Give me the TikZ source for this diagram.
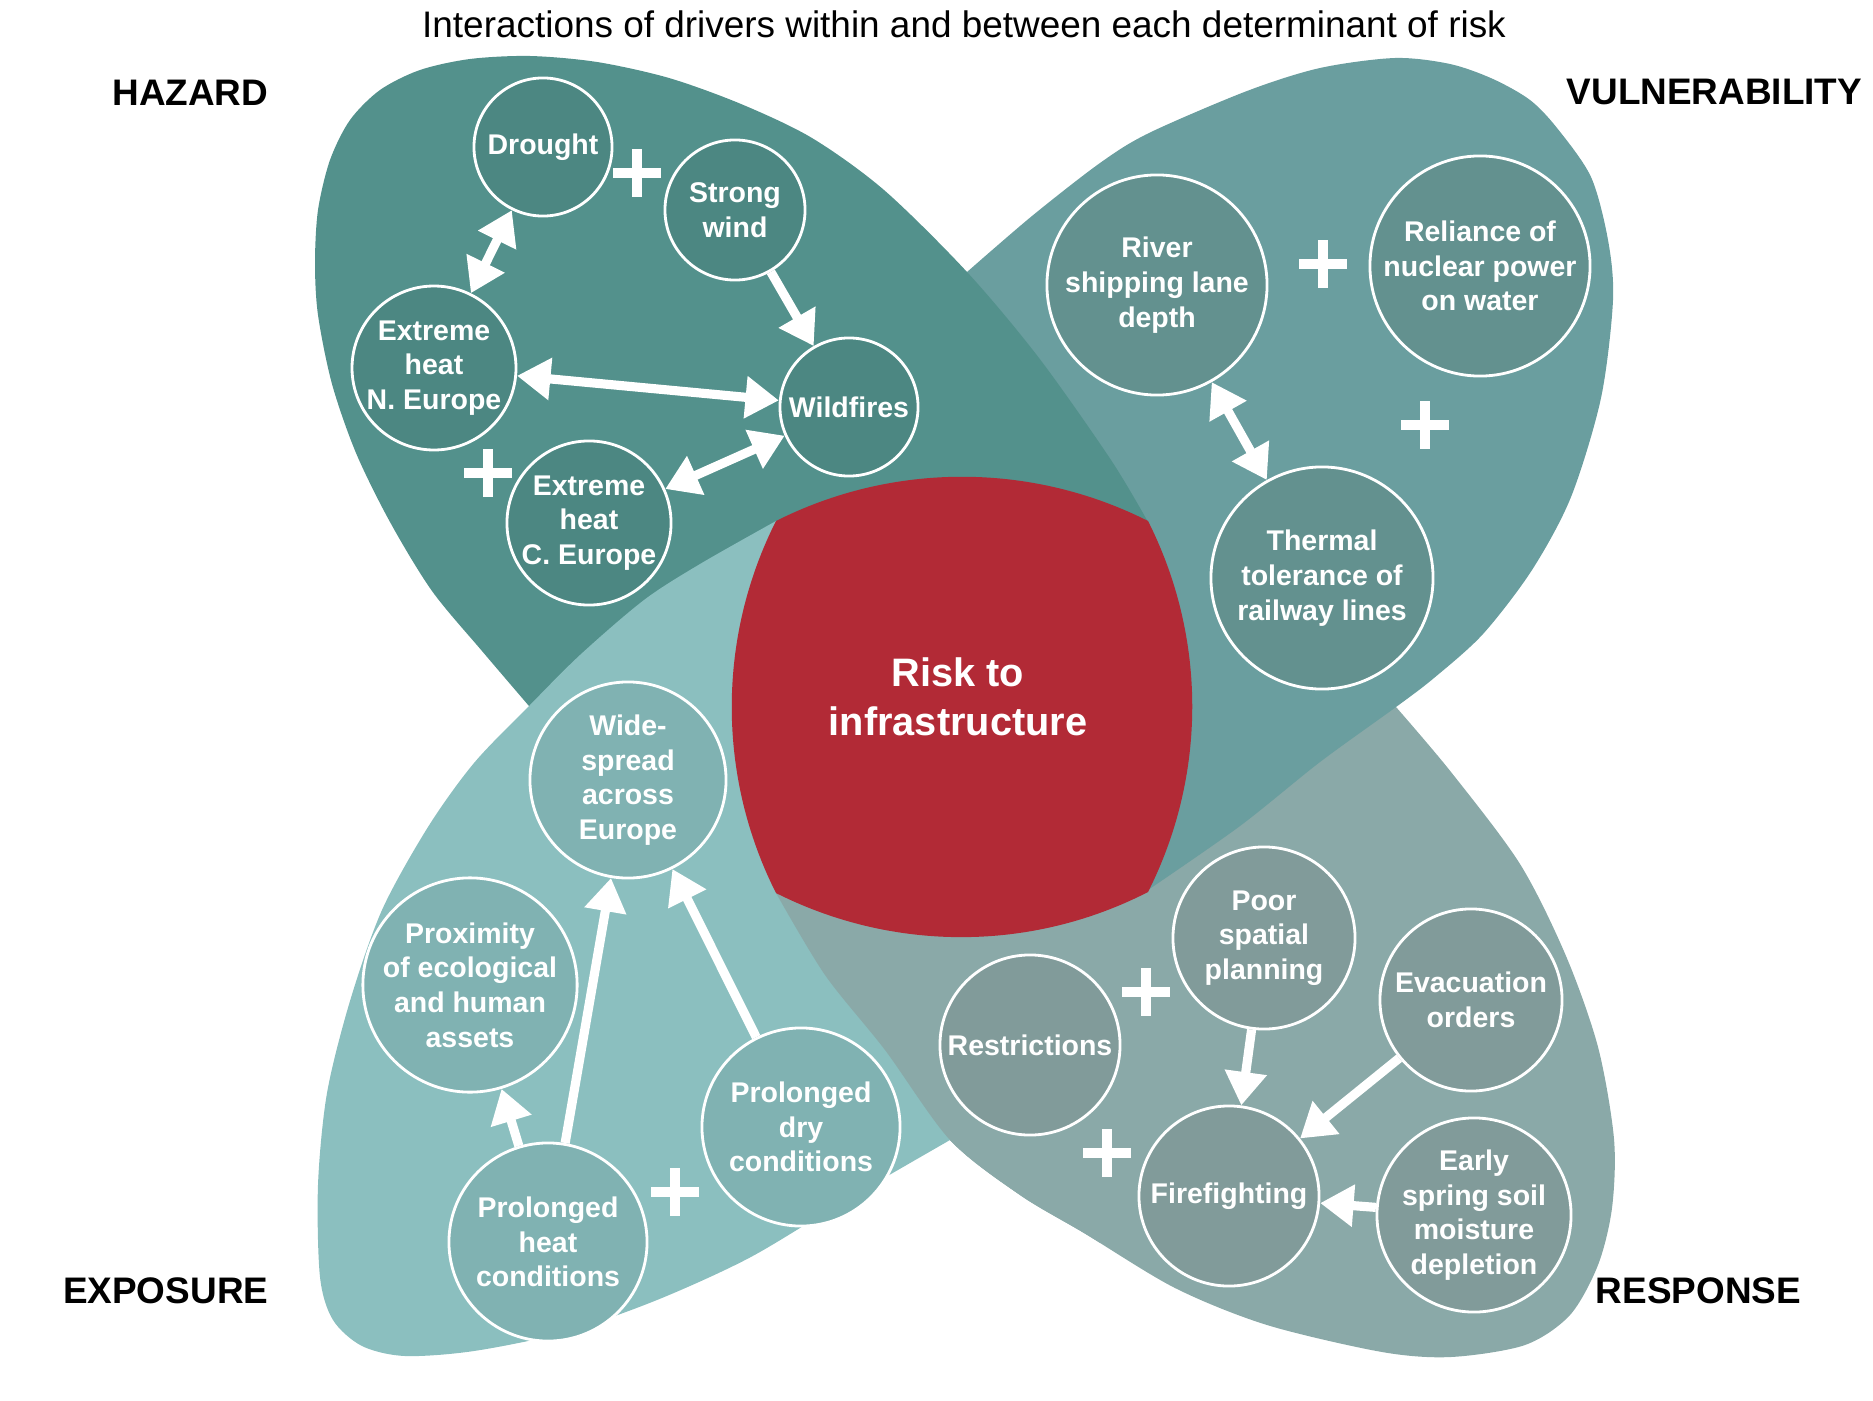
\documentclass[tikz,border=0pt]{standalone}
\usepackage{fontspec}
\setmainfont{Liberation Sans}
\usetikzlibrary{arrows.meta}
\definecolor{hzdleaf}{HTML}{53918C}
\definecolor{hzddot}{HTML}{4C8782}
\definecolor{vulleaf}{HTML}{6A9E9F}
\definecolor{vuldot}{HTML}{63918F}
\definecolor{expleaf}{HTML}{8BBFBF}
\definecolor{expdot}{HTML}{80B2B2}
\definecolor{rspleaf}{HTML}{8AA9A8}
\definecolor{rspdot}{HTML}{819B9A}
\definecolor{riskred}{HTML}{B22A36}
\newcommand\rsppath{plot[smooth] coordinates {(1396,707) (1451,772) (1520,864) (1566,956) (1598,1047) (1614,1139) (1612,1208) (1598,1265) (1570,1315) (1525,1345) (1451,1357) (1382,1352) (1267,1325) (1175,1288) (1084,1233) (1020,1195) (950,1140) (885,1050) (825,975) (776,893)} -- (950,780) -- (1150,690) -- (1300,650) -- cycle}
\begin{document}
\begin{tikzpicture}[x=0.01cm, y=-0.01cm,
    driver/.style={circle, draw=white, line width=0.8pt, text=white, align=center, inner sep=0pt,
        font=\bfseries\fontsize{8.1}{9.85}\selectfont},
    hzd/.style={driver, fill=hzddot, minimum size=#1},
    vul/.style={driver, fill=vuldot, minimum size=#1},
    expo/.style={driver, fill=expdot, minimum size=#1},
    rsp/.style={driver, fill=rspdot, minimum size=#1},
    corner/.style={inner sep=0pt, font=\bfseries\fontsize{10.5}{12}\selectfont},
    relarrow/.style={white, line width=2.6pt},
    plusmark/.style={white, line width=3pt},
    >={Triangle[width=11.5pt,length=9.5pt]}]
\useasboundingbox (0,0) rectangle (1873,1400);

\fill[rspleaf] \rsppath;
\fill[vulleaf] plot[smooth] coordinates {(967,272) (1032,216) (1100,163) (1149,133) (1247,91) (1320,68) (1395,58) (1450,64) (1493,79) (1530,100) (1557,128) (1591,177) (1608,240) (1613,300) (1601,398) (1571,497) (1532,570) (1483,634) (1434,678) (1396,707) (1320,762) (1240,826) (1148,890)} -- (1000,760) -- (850,600) -- (880,380) -- cycle;
\fill[hzdleaf] plot[smooth] coordinates {(1148,522) (1111,460) (1039,358) (967,272) (884,190) (812,138) (741,104) (669,78) (597,62) (530,56) (470,59) (420,70) (380,90) (350,120) (330,160) (318,210) (315,263) (318,315) (332,384) (356,453) (390,522) (432,591) (482,651) (529,706)} -- (600,770) -- (800,720) -- (1000,620) -- cycle;
\fill[expleaf] plot[smooth] coordinates {(776,521) (700,564) (644,600) (580,655) (529,706) (474,763) (428,827) (382,910) (350,1001) (327,1093) (318,1185) (320,1277) (333,1320) (362,1346) (405,1356) (474,1351) (566,1332) (657,1300) (749,1258) (841,1203) (950,1140)} -- (1050,1060) -- (950,800) -- cycle;
\begin{scope}
\clip (700,893) rectangle (1100,1300);
\fill[rspleaf] \rsppath;
\end{scope}
\fill[riskred] (776,521) .. controls (893,462) and (1031,462) .. (1148,521)
    .. controls (1207,638) and (1207,775) .. (1148,892)
    .. controls (1031,952) and (893,952) .. (776,893)
    .. controls (717,776) and (717,638) .. cycle;

\node[text=white, align=center, font=\bfseries\fontsize{11.3}{13.9}\selectfont] (risk) at (958,697) {Risk to\\infrastructure};
\node[font=\fontsize{10.5}{12}\selectfont] (title) at (964,24) {Interactions of drivers within and between each determinant of risk};
\node[corner, anchor=east] (hazard) at (269,93) {HAZARD};
\node[corner, anchor=west] (vulner) at (1566,92) {VULNERABILITY};
\node[corner, anchor=east] (exposure) at (269,1291) {EXPOSURE};
\node[corner, anchor=west] (response) at (1595,1291) {RESPONSE};

\node[hzd=1.38cm] (drought) at (543,147) {Drought};
\node[hzd=1.40cm] (wind) at (735,210) {Strong\\wind};
\node[hzd=1.62cm] (heatn) at (434,368) {Extreme\\heat\\N. Europe};
\node[hzd=1.38cm] (fires) at (849,407) {Wildfires};
\node[hzd=1.64cm] (heatc) at (589,523) {Extreme\\heat\\C. Europe};

\node[vul=2.20cm] (river) at (1157,285) {River\\shipping lane\\depth};
\node[vul=2.20cm] (nuclear) at (1480,266) {Reliance of\\nuclear power\\on water};
\node[vul=2.22cm] (thermal) at (1322,578) {Thermal\\tolerance of\\railway lines};

\node[expo=1.96cm] (widespread) at (628,780) {Wide-\\spread\\across\\Europe};
\node[expo=1.98cm] (proximity) at (470,985) {Proximity\\of ecological\\and human\\assets};
\node[expo=1.98cm] (drycond) at (801,1127) {Prolonged\\dry\\conditions};
\node[expo=1.98cm] (heatcond) at (548,1242) {Prolonged\\heat\\conditions};

\node[rsp=1.82cm] (planning) at (1264,938) {Poor\\spatial\\planning};
\node[rsp=1.80cm] (restrict) at (1030,1045) {Restrictions};
\node[rsp=1.82cm] (evacuate) at (1471,1000) {Evacuation\\orders};
\node[rsp=1.80cm] (firefight) at (1229,1196) {Firefighting};
\node[rsp=1.94cm] (soil) at (1474,1215) {Early\\spring soil\\moisture\\depletion};

\foreach \a/\b in {wind/fires, heatcond/widespread, heatcond/proximity, drycond/widespread, planning/firefight, evacuate/firefight, soil/firefight}
    \draw[relarrow, ->] (\a) -- (\b);
\foreach \a/\b in {drought/heatn, heatn/fires, heatc/fires, river/thermal}
    \draw[relarrow, <->] (\a) -- (\b);
\foreach \x/\y in {637/173, 488/473, 1323/264, 1425/425, 675/1192, 1146/992, 1107/1153}
    \draw[plusmark] (\x-24,\y) -- (\x+24,\y) (\x,\y-24) -- (\x,\y+24);
\end{tikzpicture}
\end{document}
